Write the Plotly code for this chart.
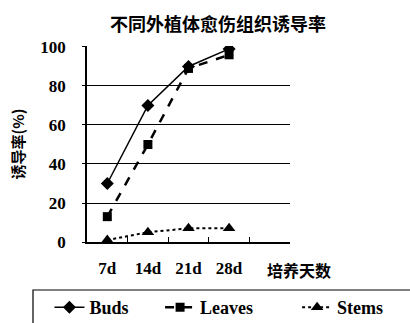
import plotly.graph_objects as go

categories = ["7d", "14d", "21d", "28d", "培养天数"]
tick_text = ["7d", "14d", "21d", "28d", ""]
buds = [30, 70, 90, 99]
leaves = [13, 50, 89, 96]
stems = [1, 5, 7, 7]
y_ticks = [0, 20, 40, 60, 80, 100]
grid_vals = [20, 40, 60, 80]

serif = "Liberation Serif, Noto Sans CJK SC, serif"
cjk = "Noto Sans CJK SC"

fig = go.Figure()
fig.add_trace(go.Scatter(x=categories[:4], y=buds, name="<b>Buds</b>", mode="lines+markers",
                         line=dict(color="black", width=1.5, dash="solid"),
                         marker=dict(symbol="diamond", size=10, color="black"), legend="legend"))
fig.add_trace(go.Scatter(x=categories[:4], y=leaves, name="<b>Leaves</b>", mode="lines+markers",
                         line=dict(color="black", width=2.5, dash="dash"),
                         marker=dict(symbol="square", size=9, color="black"), legend="legend2"))
fig.add_trace(go.Scatter(x=categories[:4], y=stems, name="<b>Stems</b>", mode="lines+markers",
                         line=dict(color="black", width=2, dash="dot"),
                         marker=dict(symbol="triangle-up", size=11, color="black"), legend="legend3"))
# invisible helper trace for the grid axis
fig.add_trace(go.Scatter(x=categories[:1], y=[None], yaxis="y2", showlegend=False, hoverinfo="skip"))

leg_common = dict(orientation="h", xanchor="left", yanchor="top", bgcolor="rgba(0,0,0,0)",
                  borderwidth=0, font=dict(family=serif, size=18, color="black"))

fig.update_layout(
    width=410, height=323,
    margin=dict(l=87, r=120, t=46, b=81, autoexpand=False),
    paper_bgcolor="white", plot_bgcolor="white",
    title=dict(text="<b>不同外植体愈伤组织诱导率</b>", x=0.532, xanchor="center", y=0.925, yanchor="middle",
               font=dict(family=cjk, size=18, color="black")),
    font=dict(family=serif, color="black", size=17),
    xaxis=dict(type="category", categoryorder="array", categoryarray=categories,
               tickvals=categories, ticktext=["<b>%s</b>" % t for t in tick_text],
               range=[-0.5, 4.5], showgrid=False, showline=True, linecolor="black", linewidth=1.5,
               ticks="inside", ticklen=5, tickcolor="black", tickson="boundaries", tickangle=0,
               tickfont=dict(family=serif, size=17, color="black"), ticklabelstandoff=10, zeroline=False),
    yaxis=dict(range=[0, 100.5], tickvals=y_ticks, ticktext=["<b>%d</b>" % v for v in y_ticks],
               showgrid=False, showline=True, linecolor="black", linewidth=1.5,
               ticks="outside", ticklen=3, tickcolor="black", zeroline=False,
               tickfont=dict(family=serif, size=17, color="black"), ticklabelstandoff=13,
               title=dict(text="<b>诱导率(%)</b>", font=dict(family=cjk, size=15, color="black"), standoff=12)),
    yaxis2=dict(range=[0, 100.5], overlaying="y", tickvals=grid_vals, showticklabels=False,
                showgrid=True, gridcolor="black", gridwidth=1, showline=False, zeroline=False, ticks=""),
    legend=dict(x=-0.185, y=-0.24, **leg_common),
    legend2=dict(x=0.36, y=-0.24, **leg_common),
    legend3=dict(x=1.035, y=-0.24, **leg_common),
    shapes=[dict(type="rect", xref="paper", yref="paper", x0=-0.266, x1=1.62, y0=-0.245, y1=-0.46,
                 line=dict(color="black", width=1.2), fillcolor="rgba(0,0,0,0)", layer="below")],
    annotations=[dict(text="<b>培养天数</b>", xref="paper", yref="paper", x=1.044, y=-0.143,
                      xanchor="center", yanchor="middle", showarrow=False,
                      font=dict(family=cjk, size=16, color="black"))],
)
fig.write_html("out.html", config={"displayModeBar": False},
               post_script="document.body.style.margin='0';document.body.style.overflow='hidden';")
